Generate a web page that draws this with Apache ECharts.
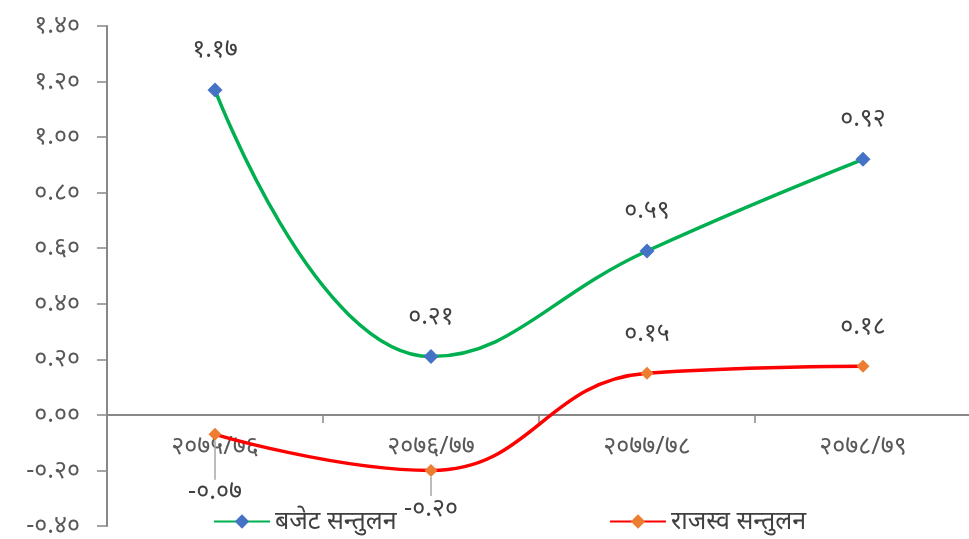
<!DOCTYPE html>
<html><head><meta charset="utf-8">
<script src="https://cdn.jsdelivr.net/npm/echarts@6/dist/echarts.min.js"></script>
<style>html,body{margin:0;padding:0;background:#fff}#c{width:969px;height:539px}</style>
</head><body><div id="c"></div>
<script>
const categories = ['२०७५/७६', '२०७६/७७', '२०७७/७८', '२०७८/७९'];
const budgetName = 'बजेट सन्तुलन';
const revenueName = 'राजस्व सन्तुलन';
const budgetValues = [1.17, 0.21, 0.59, 0.92];
const revenueValues = [-0.07, -0.20, 0.15, 0.175];
const budgetLabels = ['१.१७', '०.२१', '०.५९', '०.९२'];
const revenueLabels = ['-०.०७', '-०.२०', '०.१५', '०.१८'];
const yTickValues = [-0.4, -0.2, 0, 0.2, 0.4, 0.6, 0.8, 1.0, 1.2, 1.4];
const yTickLabels = ['-०.४०', '-०.२०', '०.००', '०.२०', '०.४०', '०.६०', '०.८०', '१.००', '१.२०', '१.४०'];

const FONT = 'Noto Sans, Lato, sans-serif';
const chart = echarts.init(document.getElementById('c'), null, {renderer: 'canvas'});
const revenueData = revenueValues.map(v => v < 0
  ? {value: v, label: {position: 'bottom', distance: 6}, labelLine: {show: true}}
  : {value: v, labelLine: {show: false}});
chart.setOption({
  animation: false,
  textStyle: {fontFamily: FONT},
  grid: {left: 107, top: 26, width: 864, height: 500, outerBoundsMode: 'none', containLabel: false},
  legend: [
    {left: 208, bottom: 0, itemWidth: 56, itemHeight: 18,
     textStyle: {fontSize: 25, color: '#404040', fontFamily: FONT}, data: [budgetName]},
    {left: 604, bottom: 0, itemWidth: 56, itemHeight: 18,
     textStyle: {fontSize: 25, color: '#404040', fontFamily: FONT}, data: [revenueName]}
  ],
  xAxis: {
    type: 'category', data: categories, boundaryGap: true,
    offset: -111,
    axisLine: {onZero: false, lineStyle: {color: '#888', width: 2}},
    axisTick: {show: true, length: 8, lineStyle: {color: '#888', width: 1.5}},
    axisLabel: {margin: 19, fontSize: 25, color: '#595959', fontFamily: FONT}
  },
  yAxis: {
    type: 'value', min: -0.4, max: 1.4, interval: 0.2,
    splitLine: {show: false},
    axisLine: {show: true, lineStyle: {color: '#888', width: 2}},
    axisTick: {show: true, length: 10, lineStyle: {color: '#888', width: 1.5}},
    axisLabel: {
      margin: 27, fontSize: 25, color: '#595959', fontFamily: FONT,
      formatter: v => {
        const i = yTickValues.findIndex(t => Math.abs(t - v) < 1e-6);
        return i >= 0 ? yTickLabels[i] : '';
      }
    }
  },
  series: [
    {
      name: budgetName, type: 'line', smooth: 0.45, data: budgetValues,
      symbol: 'diamond', symbolSize: 15,
      lineStyle: {color: '#00b050', width: 3.5},
      itemStyle: {color: '#4472c4'},
      label: {
        show: true, position: 'top', distance: 20, fontSize: 25, color: '#404040', fontFamily: FONT,
        formatter: p => budgetLabels[p.dataIndex]
      }
    },
    {
      name: revenueName, type: 'line', smooth: 0.45, data: revenueData,
      symbol: 'diamond', symbolSize: 13,
      lineStyle: {color: '#ff0000', width: 3.5},
      itemStyle: {color: '#ed7d31'},
      label: {
        show: true, position: 'top', distance: 20, fontSize: 25, color: '#404040', fontFamily: FONT,
        formatter: p => revenueLabels[p.dataIndex]
      },
      labelLine: {lineStyle: {color: '#a6a6a6', width: 1.5}},
      labelLayout: p => {
        if (p.dataIndex === 0) return {dy: 33};
        if (p.dataIndex === 1) return {dy: 13};
        return {};
      }
    }
  ]
});
</script></body></html>
